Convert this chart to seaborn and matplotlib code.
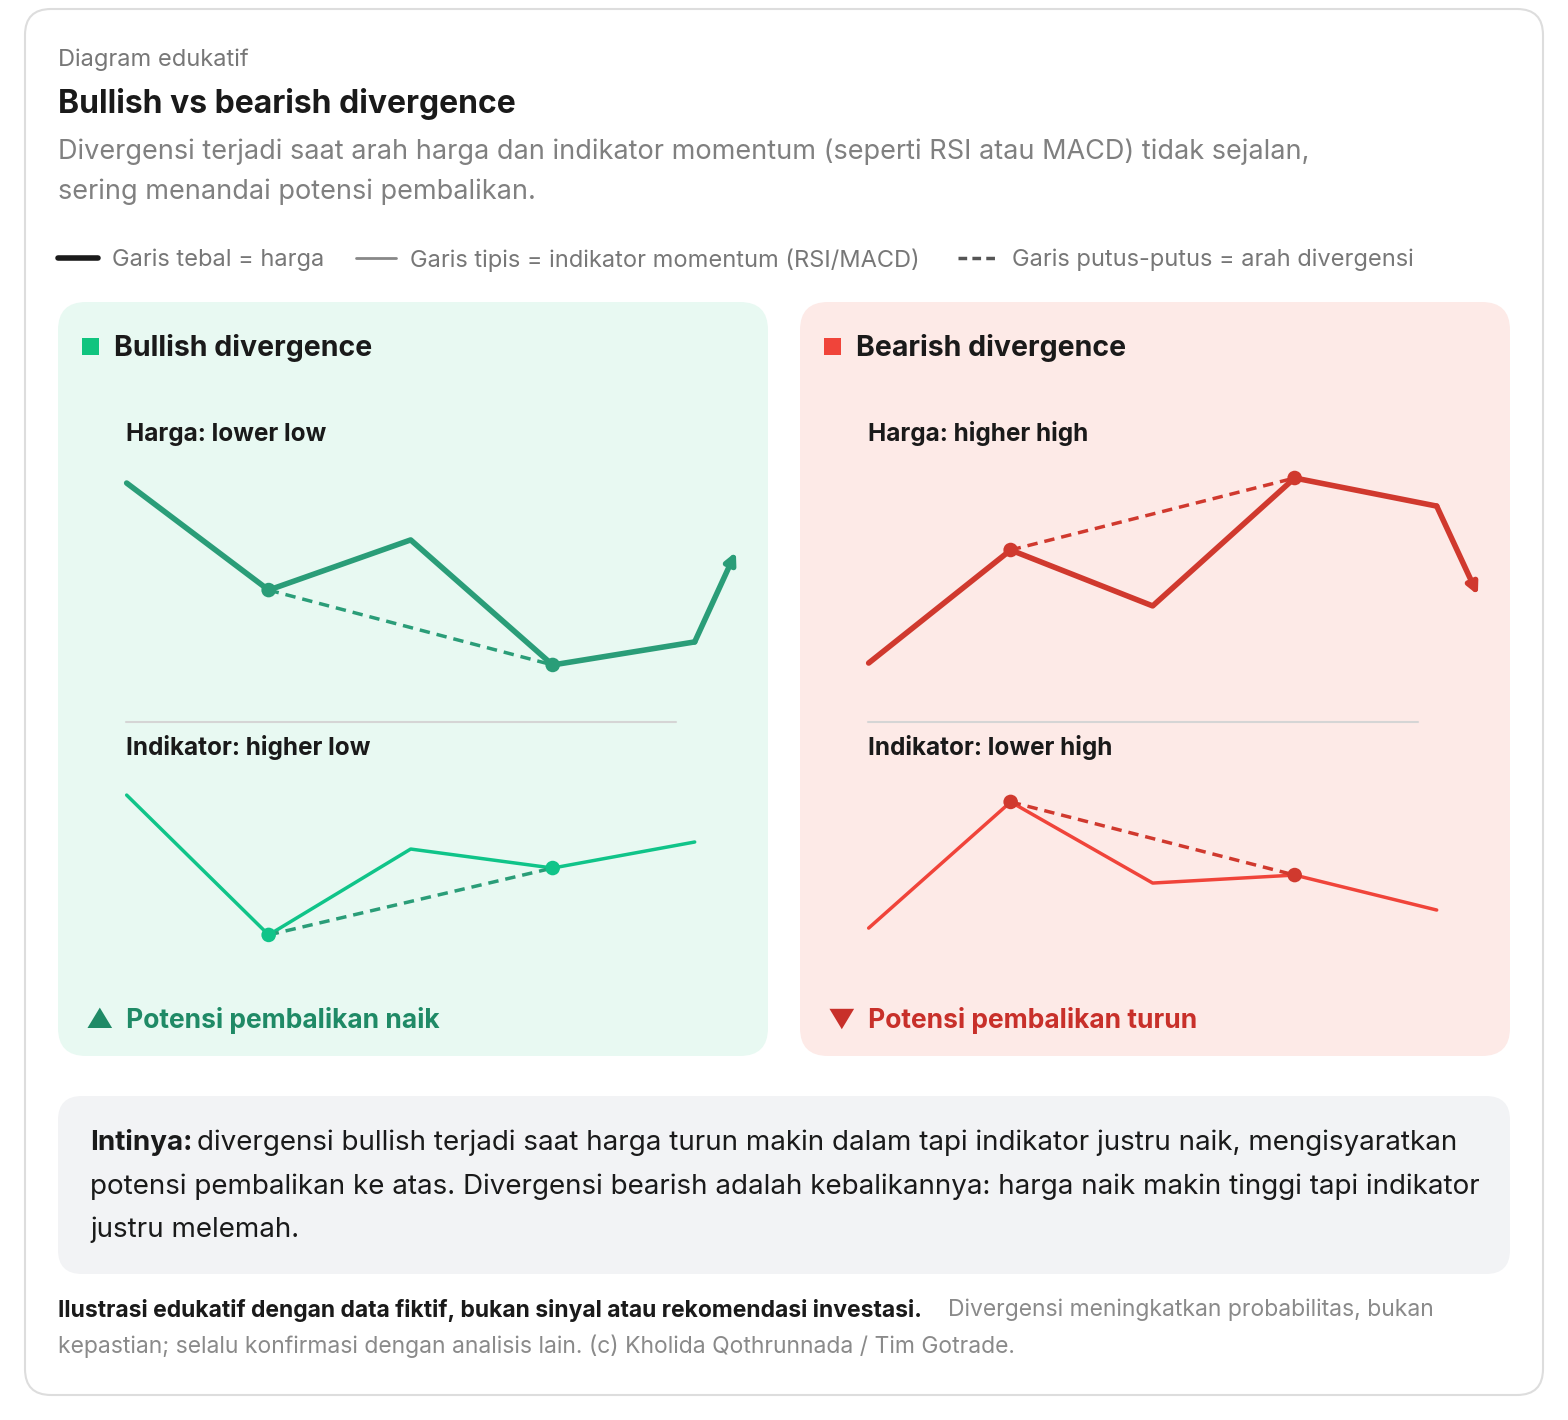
import matplotlib
matplotlib.use("Agg")
import matplotlib.pyplot as plt
import seaborn as sns
import pandas as pd
from matplotlib.patches import FancyBboxPatch, Rectangle

sns.set_theme(style="white")
plt.rcParams['font.family'] = ['Inter', 'DejaVu Sans']

# data (fictional; y scale 0-100)
steps = [0, 1, 2, 3, 4]
bull_price = [90.4, 45.8, 66.7, 14.6, 24.2]
bull_price_tip = (4.29, 61.7)
bull_ind = [86.8, 13.2, 58.4, 48.4, 62.1]
bear_price = [15.4, 62.5, 39.2, 92.5, 80.8]
bear_price_tip = (4.29, 43.75)
bear_ind = [16.8, 83.2, 40.5, 44.7, 26.3]
div_pts = [1, 3]

W, H = 1568, 1420
fig = plt.figure(figsize=(W / 100, H / 100), dpi=100)
bg = fig.add_axes([0, 0, 1, 1])
bg.set_xlim(0, W)
bg.set_ylim(H, 0)
bg.axis("off")

def box(x, y, w, h, fc, ec="none", r=22, lw=1):
    bg.add_patch(FancyBboxPatch((x + r, y + r), w - 2 * r, h - 2 * r,
                                boxstyle=f"round,pad={r}", fc=fc, ec=ec, lw=lw))

box(25, 9, 1518, 1386, "white", ec="#dddddd", r=26, lw=1.5)
bg.text(58, 60, "Diagram edukatif", fontsize=17, color="#777777", va="center")
bg.text(58, 104, "Bullish vs bearish divergence", fontsize=23, weight="bold", color="#1a1a1a", va="center")
bg.text(58, 152, "Divergensi terjadi saat arah harga dan indikator momentum (seperti RSI atau MACD) tidak sejalan,",
        fontsize=19.5, color="#808080", va="center")
bg.text(58, 192, "sering menandai potensi pembalikan.", fontsize=19.5, color="#808080", va="center")

# legend
bg.plot([58, 98], [258, 258], color="#1a1a1a", lw=4)
bg.text(112, 260, "Garis tebal = harga", fontsize=17, color="#777777", va="center")
bg.plot([356, 396], [258, 258], color="#888888", lw=2)
bg.text(410, 260, "Garis tipis = indikator momentum (RSI/MACD)", fontsize=17, color="#777777", va="center")
bg.plot([958, 998], [258, 258], color="#555555", lw=2.5, ls=(0, (2.5, 1.5)))
bg.text(1012, 260, "Garis putus-putus = arah divergensi", fontsize=17, color="#777777", va="center")

panels = [
    dict(x=58, bg="#e8f9f2", sq="#10c47f", title="Bullish divergence", ptxt="Harga: lower low",
         itxt="Indikator: higher low", price=bull_price, tip=bull_price_tip, ind=bull_ind,
         pc="#2a9d78", ic="#10c489", foot="▲  Potensi pembalikan naik", fc="#1f8a66"),
    dict(x=800, bg="#fdeae7", sq="#f0443a", title="Bearish divergence", ptxt="Harga: higher high",
         itxt="Indikator: lower high", price=bear_price, tip=bear_price_tip, ind=bear_ind,
         pc="#d0392e", ic="#f0443a", foot="▼  Potensi pembalikan turun", fc="#c8302a"),
]

def data_axes(px0, py_top, py_bottom):
    # x range 0..4 maps to px0..px0+550, extended a bit for the arrow tip
    x0 = px0 - 20
    x1 = px0 + 610
    ax = fig.add_axes([x0 / W, 1 - py_bottom / H, (x1 - x0) / W, (py_bottom - py_top) / H])
    ax.set_xlim(-20 / 137.5, 590 / 137.5)
    ax.patch.set_alpha(0)
    ax.axis("off")
    return ax

for p in panels:
    x = p["x"]
    box(x, 302, 710, 754, p["bg"], r=28)
    bg.add_patch(Rectangle((x + 24, 338), 17, 17, fc=p["sq"], ec="none"))
    bg.text(x + 56, 348, p["title"], fontsize=20.5, weight="bold", color="#1a1a1a", va="center")
    cx = x + 68
    bg.text(cx, 434, p["ptxt"], fontsize=17.5, weight="bold", color="#1a1a1a", va="center")
    bg.plot([cx, cx + 550], [722, 722], color="#d5d5d5", lw=1.5)
    bg.text(cx, 747, p["itxt"], fontsize=17.5, weight="bold", color="#1a1a1a", va="center")
    bg.text(x + 28, 1020, p["foot"], fontsize=19, weight="bold", color=p["fc"], va="center")

    # price chart: 0 -> px 700, 100 -> px 460
    axp = data_axes(cx, 460, 700)
    axp.set_ylim(0, 100)
    df = pd.DataFrame({"step": steps, "v": p["price"]})
    sns.lineplot(data=df, x="step", y="v", ax=axp, color=p["pc"], lw=4)
    axp.annotate("", xy=p["tip"], xytext=(steps[-1], p["price"][-1]),
                 arrowprops=dict(arrowstyle="-|>", color=p["pc"], lw=4, mutation_scale=16,
                                 shrinkA=0, shrinkB=0))
    dx = [steps[i] for i in div_pts]
    dy = [p["price"][i] for i in div_pts]
    axp.plot(dx, dy, color=p["pc"], lw=2.5, ls=(0, (3, 2)))
    sns.scatterplot(x=dx, y=dy, ax=axp, color=p["pc"], s=110, edgecolor="none", zorder=5)

    # indicator chart: 0 -> px 960, 100 -> px 770
    axi = data_axes(cx, 770, 960)
    axi.set_ylim(0, 100)
    df = pd.DataFrame({"step": steps, "v": p["ind"]})
    sns.lineplot(data=df, x="step", y="v", ax=axi, color=p["ic"], lw=2.5)
    dy = [p["ind"][i] for i in div_pts]
    axi.plot(dx, dy, color=p["pc"] if x < 400 else p["pc"], lw=2.5, ls=(0, (3, 2)))
    sns.scatterplot(x=dx, y=dy, ax=axi, color=p["ic"] if x < 400 else p["pc"], s=110,
                    edgecolor="none", zorder=5)
    for a in (axp, axi):
        a.set_xlim(-20 / 137.5, 590 / 137.5)
        a.axis("off")

# summary box
box(58, 1096, 1452, 178, "#f2f3f5", r=24)
bg.text(90, 1143, "Intinya:", fontsize=20, weight="bold", color="#1a1a1a", va="center")
bg.text(197, 1143, "divergensi bullish terjadi saat harga turun makin dalam tapi indikator justru naik, mengisyaratkan",
        fontsize=20, color="#1a1a1a", va="center")
bg.text(90, 1187, "potensi pembalikan ke atas. Divergensi bearish adalah kebalikannya: harga naik makin tinggi tapi indikator",
        fontsize=20, color="#1a1a1a", va="center")
bg.text(90, 1230, "justru melemah.", fontsize=20, color="#1a1a1a", va="center")

bg.text(58, 1310, "Ilustrasi edukatif dengan data fiktif, bukan sinyal atau rekomendasi investasi.",
        fontsize=16.5, weight="bold", color="#1a1a1a", va="center")
bg.text(948, 1310, "Divergensi meningkatkan probabilitas, bukan", fontsize=16.5, color="#8a8a8a", va="center")
bg.text(58, 1346, "kepastian; selalu konfirmasi dengan analisis lain. (c) Kholida Qothrunnada / Tim Gotrade.",
        fontsize=16.5, color="#8a8a8a", va="center")

fig.savefig("out.png", dpi=100)
